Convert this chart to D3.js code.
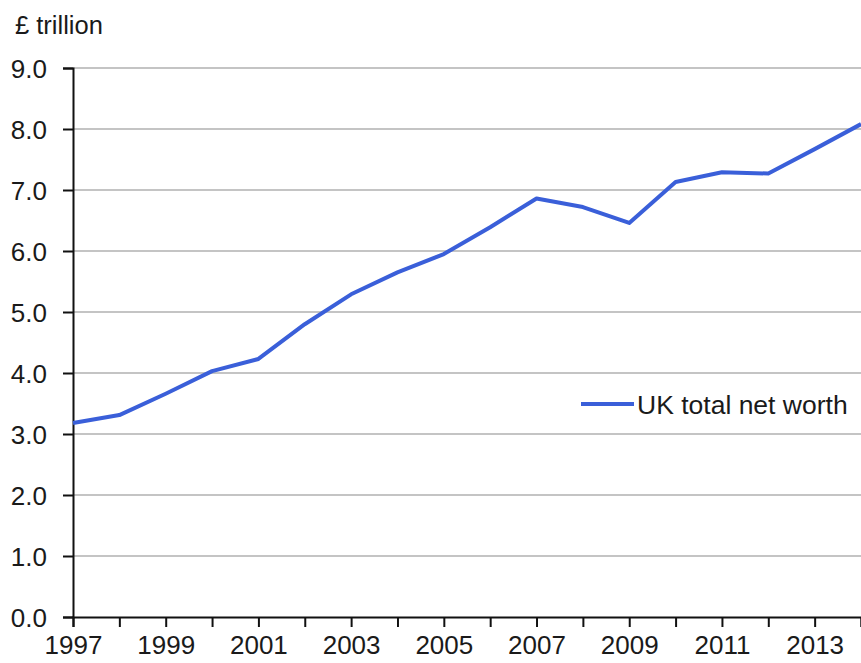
<!DOCTYPE html>
<html>
<head>
<meta charset="utf-8">
<script src="https://cdn.jsdelivr.net/npm/d3@7"></script>
<style>
  body { margin: 0; background: #fff; }
  text { font-family: "Liberation Sans", Arial, sans-serif; fill: #1a1a1a; }
</style>
</head>
<body>
<svg id="chart"></svg>
<script>
// data
const years = [1997, 1998, 1999, 2000, 2001, 2002, 2003, 2004, 2005,
               2006, 2007, 2008, 2009, 2010, 2011, 2012, 2013, 2014];
const netWorth = [3.18, 3.31, 3.66, 4.03, 4.23, 4.80, 5.29, 5.65, 5.95,
                  6.39, 6.86, 6.72, 6.46, 7.13, 7.29, 7.27, 7.67, 8.08];
const yTicks = [0, 1, 2, 3, 4, 5, 6, 7, 8, 9];
const xTickLabels = [1997, 1999, 2001, 2003, 2005, 2007, 2009, 2011, 2013];
const seriesName = 'UK total net worth';
const unitLabel = '£ trillion';

const width = 861, height = 663;
const margin = {top: 68, right: 0, bottom: 46, left: 73};

const svg = d3.select('#chart')
    .attr('width', width)
    .attr('height', height);

const x = d3.scaleLinear()
    .domain([1997, 2014])
    .range([margin.left, width - margin.right]);

const y = d3.scaleLinear()
    .domain([0, 9])
    .range([height - margin.bottom, margin.top]);

// gridlines
svg.append('g')
    .selectAll('line')
    .data(yTicks.filter(d => d > 0))
    .join('line')
    .attr('x1', margin.left)
    .attr('x2', width)
    .attr('y1', d => y(d))
    .attr('y2', d => y(d))
    .attr('stroke', '#c4c4c4')
    .attr('stroke-width', 2);

// y axis
const yAxisG = svg.append('g')
    .attr('transform', `translate(${margin.left},0)`)
    .call(d3.axisLeft(y).tickValues(yTicks).tickSize(10).tickPadding(16)
        .tickFormat(d3.format('.1f')));
yAxisG.select('.domain').attr('stroke', '#111').attr('stroke-width', 2);
yAxisG.selectAll('.tick line').attr('stroke', '#111').attr('stroke-width', 2);
yAxisG.selectAll('.tick text')
    .style('font-size', '26px')
    .attr('dy', '0.36em');

// x axis
const xAxisG = svg.append('g')
    .attr('transform', `translate(0,${y(0)})`)
    .call(d3.axisBottom(x).tickValues(years).tickSize(10).tickPadding(9)
        .tickFormat(d => xTickLabels.includes(d) ? d : ''));
xAxisG.select('.domain').attr('stroke', '#111').attr('stroke-width', 2);
xAxisG.selectAll('.tick line').attr('stroke', '#111').attr('stroke-width', 2);
xAxisG.selectAll('.tick text')
    .style('font-size', '26px');

// the line
const line = d3.line()
    .x((d, i) => x(years[i]))
    .y(d => y(d));

svg.append('path')
    .datum(netWorth)
    .attr('fill', 'none')
    .attr('stroke', '#3a5fd9')
    .attr('stroke-width', 4)
    .attr('stroke-linejoin', 'round')
    .attr('d', line);

// unit label
svg.append('text')
    .attr('x', 15)
    .attr('y', 34)
    .style('font-size', '25.5px')
    .text(unitLabel);

// legend
const legend = svg.append('g')
    .attr('transform', 'translate(581,404)');
legend.append('line')
    .attr('x1', 0)
    .attr('x2', 53)
    .attr('stroke', '#3a5fd9')
    .attr('stroke-width', 4);
legend.append('text')
    .attr('x', 56)
    .attr('dy', '0.36em')
    .style('font-size', '26.5px')
    .text(seriesName);
</script>
</body>
</html>
